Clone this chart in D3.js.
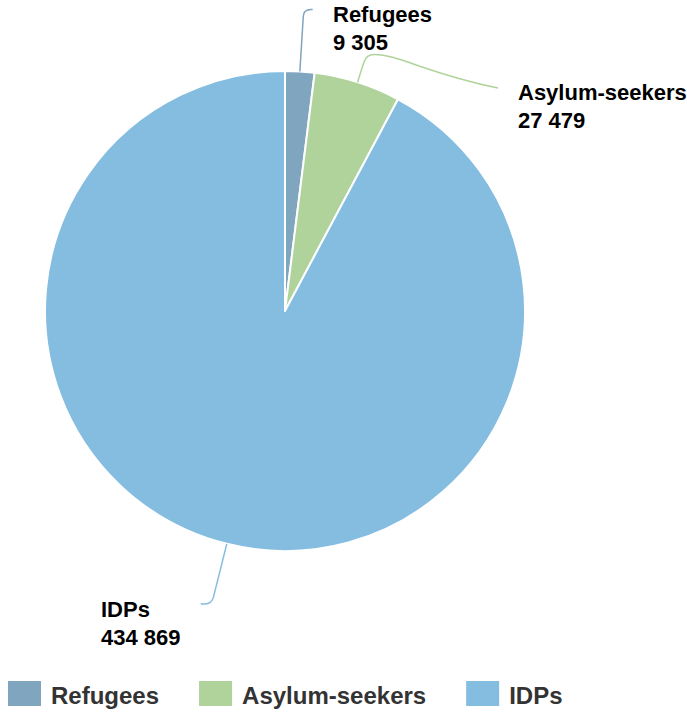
<!DOCTYPE html>
<html>
<head>
<meta charset="utf-8">
<script src="https://cdn.jsdelivr.net/npm/d3@7"></script>
<style>
  body { margin: 0; background: #fff; }
  svg { display: block; font-family: "Liberation Sans", Arial, Helvetica, sans-serif; }
</style>
</head>
<body>
<script>
const categories = ["Refugees", "Asylum-seekers", "IDPs"];
const values = [9305, 27479, 434869];
const colors = ["#80a5bf", "#b0d39b", "#84bde0"];

const width = 687, height = 713;
const cx = 285, cy = 311, radius = 240;

// label layout: elbow distance beyond the rim, end of connector, text anchor
const labelLayout = [
  { elbow: 62, end: [9, 0], text: [333, 22] },
  { elbow: 29, end: [498, 88], abs: true, text: [518, 100] },
  { elbow: 62, end: [-11, 0], text: [101, 617] }
];

const fmt = (v) => d3.format(",")(v).replace(/,/g, " ");

const data = categories.map((c, i) => ({ name: c, value: values[i], color: colors[i] }));

const svg = d3.select("body").append("svg")
  .attr("width", width)
  .attr("height", height);

const pie = d3.pie().value((d) => d.value).sort(null);
const arc = d3.arc().innerRadius(0).outerRadius(radius);
const arcs = pie(data);

const g = svg.append("g").attr("transform", `translate(${cx},${cy})`);

g.selectAll("path")
  .data(arcs)
  .join("path")
  .attr("d", arc)
  .attr("fill", (d) => d.data.color)
  .attr("stroke", "#fff")
  .attr("stroke-width", 2)
  .attr("stroke-linejoin", "round");

// connectors
function pointAt(a, r) {
  return [cx + r * Math.sin(a), cy - r * Math.cos(a)];
}

const connectors = svg.append("g").attr("fill", "none").attr("stroke-width", 1.5);
arcs.forEach((d, i) => {
  const L = labelLayout[i];
  const mid = (d.startAngle + d.endAngle) / 2;
  const p0 = pointAt(mid, radius);
  const p1 = pointAt(mid, radius + L.elbow);
  const p2 = L.abs ? L.end : [p1[0] + L.end[0], p1[1] + L.end[1]];
  const toward = (a, b, t) => {
    const dx = b[0] - a[0], dy = b[1] - a[1], len = Math.hypot(dx, dy);
    return [a[0] + dx / len * t, a[1] + dy / len * t];
  };
  const path = d3.path();
  path.moveTo(...p0);
  if (L.abs) {
    // long connector: rounded elbow, short flat run, then a smooth slope to the label
    const q0 = toward(p1, p0, 8);
    const q1 = [p1[0] + 8, p1[1]];
    path.lineTo(...q0);
    path.quadraticCurveTo(p1[0], p1[1], q1[0], q1[1]);
    path.bezierCurveTo(q1[0] + 25, q1[1], p2[0] - 70, p2[1] - 14, p2[0], p2[1]);
  } else {
    const r = 7;
    const q0 = toward(p1, p0, r), q1 = toward(p1, p2, r);
    path.lineTo(...q0);
    path.quadraticCurveTo(p1[0], p1[1], q1[0], q1[1]);
    path.lineTo(...p2);
  }
  connectors.append("path")
    .attr("d", path.toString())
    .attr("stroke", d.data.color);

  const t = svg.append("text")
    .attr("x", L.text[0])
    .attr("y", L.text[1])
    .attr("font-size", 22)
    .attr("font-weight", "bold")
    .attr("fill", "#000")
    .attr("stroke", "#fff")
    .attr("stroke-width", 3)
    .attr("stroke-linejoin", "round")
    .attr("paint-order", "stroke");
  t.append("tspan").attr("x", L.text[0]).text(d.data.name);
  t.append("tspan").attr("x", L.text[0]).attr("dy", 28).text(fmt(d.data.value));
});

// legend
const legend = svg.append("g").attr("transform", "translate(8,681)");
let lx = 0;
data.forEach((d) => {
  const item = legend.append("g").attr("transform", `translate(${lx},0)`);
  item.append("rect")
    .attr("width", 33)
    .attr("height", 25)
    .attr("fill", d.color);
  const txt = item.append("text")
    .attr("x", 43)
    .attr("y", 23)
    .attr("font-size", 24)
    .attr("font-weight", "bold")
    .attr("fill", "#333")
    .text(d.name);
  lx += 43 + txt.node().getComputedTextLength() + 40;
});
</script>
</body>
</html>
